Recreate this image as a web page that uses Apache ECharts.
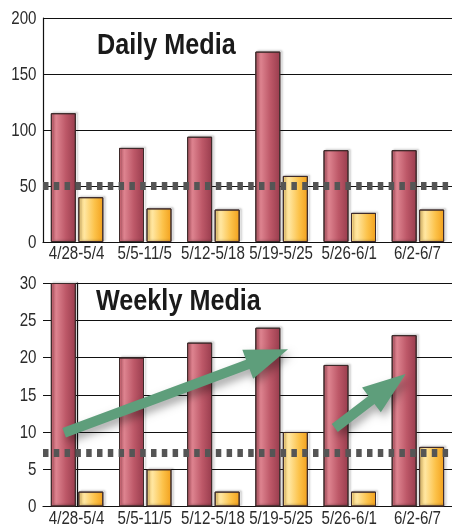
<!DOCTYPE html>
<html>
<head>
<meta charset="utf-8">
<style>html,body{margin:0;padding:0;background:#fff;}#c{width:452px;height:527px;}</style>
<script src="https://cdn.jsdelivr.net/npm/echarts@6/dist/echarts.min.js"></script>
</head>
<body>
<div id="c"></div>
<script>
var categories = ['4/28-5/4', '5/5-11/5', '5/12-5/18', '5/19-5/25', '5/26-6/1', '6/2-6/7'];
var dailyRed = [115, 84, 94, 170, 82, 82];
var dailyYellow = [40, 30, 29, 59, 26, 29];
var dailyRef = 50;
var weeklyRed = [30, 20, 22, 24, 19, 23];
var weeklyYellow = [2, 5, 2, 10, 2, 8];
var weeklyRef = 7.2;
var dailyTickLabels = [0, 50, 100, 150, 200];
var weeklyTickLabels = [0, 5, 10, 15, 20, 25, 30];
var titles = ['Daily Media', 'Weekly Media'];
// arrows: [tailX(category index), tailY, tipX, tipY]
var weeklyArrows = [[-0.19, 9.9, 3.095, 21.1], [3.78, 10.55, 4.82, 17.8]];

var FONT = "'Liberation Sans', Arial, sans-serif";
var SX = 0.84; // condensed look
var redGrad = new echarts.graphic.LinearGradient(0, 0, 1, 0, [
  {offset: 0, color: '#c9606f'}, {offset: 0.22, color: '#dd838f'},
  {offset: 0.6, color: '#bd5868'}, {offset: 1, color: '#983c4d'}]);
var yelGrad = new echarts.graphic.LinearGradient(0, 0, 1, 0, [
  {offset: 0, color: '#ffd77a'}, {offset: 0.25, color: '#ffe6a0'},
  {offset: 0.65, color: '#fcc24a'}, {offset: 1, color: '#f2a01c'}]);

function yAx(idx, ticks) {
  return {gridIndex: idx, type: 'value', min: ticks[0], max: ticks[ticks.length - 1],
    interval: ticks[1] - ticks[0],
    axisLine: {show: true, lineStyle: {color: '#111', width: 1.2}},
    axisTick: {show: false},
    axisLabel: {show: false},
    splitLine: {show: true, lineStyle: {color: '#111', width: 1.2}}};
}
function xAx(idx) {
  return {gridIndex: idx, type: 'category', data: categories,
    axisLine: {show: true, lineStyle: {color: '#111', width: 1.2}},
    axisTick: {show: false},
    axisLabel: {show: false},
    splitLine: {show: false}};
}
function barS(name, data, idx, grad, ref) {
  var s = {name: name, type: 'bar', xAxisIndex: idx, yAxisIndex: idx, data: data,
    barWidth: 25, barGap: '10%',
    itemStyle: {color: grad, borderColor: '#3d2a2a', borderWidth: 1,
      shadowColor: 'rgba(0,0,0,0.25)', shadowBlur: 2, shadowOffsetX: 2, shadowOffsetY: -1}};
  if (ref !== undefined) {
    s.markLine = {silent: true, symbol: 'none', label: {show: false},
      lineStyle: {color: '#555', width: 8, type: [5.5, 5.3], opacity: 1},
      data: [{yAxis: ref}]};
  }
  return s;
}

var chart = echarts.init(document.getElementById('c'), null, {renderer: 'canvas'});
chart.setOption({
  backgroundColor: '#fff',
  animation: false,
  grid: [
    {left: 43, top: 18, width: 413.5, height: 224},
    {left: 43, top: 283, width: 413.5, height: 223.5}
  ],
  xAxis: [xAx(0), xAx(1),
    {gridIndex: 1, type: 'value', min: -0.5, max: 5.5, show: false}],
  yAxis: [yAx(0, dailyTickLabels), yAx(1, weeklyTickLabels)],
  series: [
    barS('Red', dailyRed, 0, redGrad, dailyRef),
    barS('Yellow', dailyYellow, 0, yelGrad),
    barS('Red', weeklyRed, 1, redGrad, weeklyRef),
    barS('Yellow', weeklyYellow, 1, yelGrad),
    {type: 'custom', xAxisIndex: 2, yAxisIndex: 1, data: weeklyArrows, z: 10, clip: false,
      renderItem: function (params, api) {
        var a = api.coord([api.value(0), api.value(1)]);
        var b = api.coord([api.value(2), api.value(3)]);
        var dx = b[0] - a[0], dy = b[1] - a[1];
        var L = Math.sqrt(dx * dx + dy * dy);
        var ux = dx / L, uy = dy / L, nx = -uy, ny = ux;
        var sw = 5, hl = 43, hw = 15.5;
        var bx = b[0] - ux * hl, by = b[1] - uy * hl;
        var pts = [
          [a[0] + nx * sw, a[1] + ny * sw],
          [bx + nx * sw, by + ny * sw],
          [bx + nx * hw, by + ny * hw],
          [b[0], b[1]],
          [bx - nx * hw, by - ny * hw],
          [bx - nx * sw, by - ny * sw],
          [a[0] - nx * sw, a[1] - ny * sw]
        ];
        return {type: 'polygon', shape: {points: pts},
          style: {fill: '#5e9e7b', shadowColor: 'rgba(0,0,0,0.35)', shadowBlur: 8, shadowOffsetX: 3, shadowOffsetY: 5}};
      }}
  ]
});

// Condensed text labels, positioned through the axes
var g = [];
function txt(text, x, y, align, vAlign, size, weight, color) {
  g.push({type: 'text', x: x, y: y, scaleX: SX, originX: 0, z: 100,
    style: {text: String(text), fontFamily: FONT, fontSize: size, fontWeight: weight,
      fill: color, align: align, verticalAlign: vAlign}});
}
[[0, dailyTickLabels], [1, weeklyTickLabels]].forEach(function (p) {
  var gi = p[0];
  p[1].forEach(function (v) {
    var pt = chart.convertToPixel({xAxisIndex: gi, yAxisIndex: gi}, [0, v]);
    txt(v, 36.5, pt[1] + 1, 'right', 'middle', 18, 'normal', '#2b2b2b');
  });
  categories.forEach(function (c, i) {
    var pt = chart.convertToPixel({xAxisIndex: gi, yAxisIndex: gi}, [i, 0]);
    txt(c, pt[0] - 0.5, pt[1] + 12.5, 'center', 'middle', 18, 'normal', '#2b2b2b');
  });
});
var t0 = chart.convertToPixel({xAxisIndex: 0, yAxisIndex: 0}, [0, 200]);
var t1 = chart.convertToPixel({xAxisIndex: 1, yAxisIndex: 1}, [0, 30]);
txt(titles[0], 97, t0[1] + 28, 'left', 'middle', 30, 'bold', '#1a1a1a');
txt(titles[1], 96, t1[1] + 18.5, 'left', 'middle', 30, 'bold', '#1a1a1a');
chart.setOption({graphic: g});
</script>
</body>
</html>
